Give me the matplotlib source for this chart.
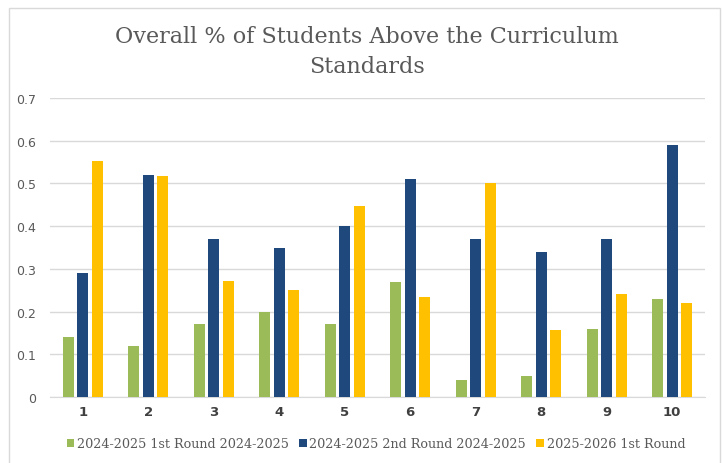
import matplotlib
matplotlib.use("Agg")
import matplotlib.pyplot as plt
import numpy as np
from matplotlib.patches import Rectangle

categories = ["1", "2", "3", "4", "5", "6", "7", "8", "9", "10"]
series_names = ["2024-2025 1st Round 2024-2025",
                "2024-2025 2nd Round 2024-2025",
                "2025-2026 1st Round"]
round1 = [0.14, 0.12, 0.17, 0.20, 0.17, 0.27, 0.04, 0.05, 0.16, 0.23]
round2 = [0.29, 0.52, 0.37, 0.35, 0.40, 0.51, 0.37, 0.34, 0.37, 0.59]
round3 = [0.553, 0.517, 0.272, 0.25, 0.448, 0.234, 0.50, 0.157, 0.24, 0.219]
colors = ["#9BBB59", "#1F497D", "#FFC000"]
yticks = [0, 0.1, 0.2, 0.3, 0.4, 0.5, 0.6, 0.7]
ytick_labels = ["0", "0.1", "0.2", "0.3", "0.4", "0.5", "0.6", "0.7"]

W, H = 726, 464
fig = plt.figure(figsize=(W / 100, H / 100), dpi=100)
fig.patch.set_facecolor("white")
fig.patches.append(Rectangle((9 / W, -0.01), (720 - 9) / W, (H - 9) / H + 0.01,
                             transform=fig.transFigure, fill=False,
                             edgecolor="#d9d9d9", linewidth=1.0))

ax = fig.add_axes([50 / W, 1 - 398 / H, (705 - 50) / W, (398 - 99) / H])
x = np.arange(len(categories))
bw = 0.168
step = 0.224
for i, (vals, c, name) in enumerate(zip([round1, round2, round3], colors, series_names)):
    ax.bar(x + (i - 1) * step, vals, width=bw, color=c, label=name, zorder=3)

ax.set_xlim(-0.5, len(categories) - 0.5)
ax.set_ylim(0, 0.7)
ax.set_yticks(yticks)
ax.set_yticklabels(ytick_labels)
ax.set_xticks(x)
ax.set_xticklabels(categories, fontweight="bold")
ax.grid(axis="y", color="#d9d9d9", linewidth=1.0, zorder=0)
for s in ["top", "right", "left"]:
    ax.spines[s].set_visible(False)
ax.spines["bottom"].set_color("#d9d9d9")
ax.tick_params(axis="both", length=0, colors="#595959", labelsize=9)
ax.tick_params(axis="y", pad=10)
ax.tick_params(axis="x", pad=6, labelsize=9.5)
for lab in ax.get_xticklabels():
    lab.set_color("#404040")

fig.text(367 / W, 1 - 52 / H, "Overall % of Students Above the Curriculum\nStandards",
         ha="center", va="center", fontsize=16, color="#595959",
         family="DejaVu Serif", linespacing=1.45)

leg = fig.legend(loc="center", bbox_to_anchor=(376 / W, 1 - 445 / H), ncol=3,
                 frameon=False, prop={"family": "DejaVu Serif", "size": 9.2},
                 handlelength=0.6, handleheight=0.6, handletextpad=0.2,
                 columnspacing=0.8, labelcolor="#595959")

fig.savefig("out.png", dpi=100, facecolor="white")
